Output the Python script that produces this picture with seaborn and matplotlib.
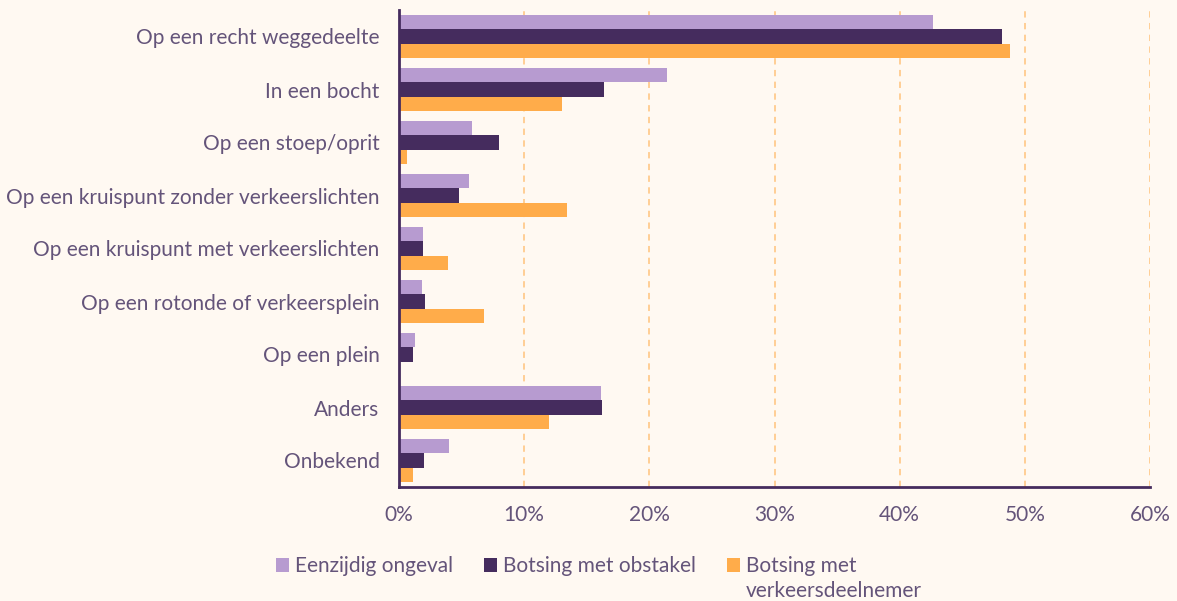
#------------------------------------------------------------------------------
# Libraries
#------------------------------------------------------------------------------

import pandas as pd
import seaborn as sns
import matplotlib.pyplot as plt
from matplotlib.ticker import PercentFormatter

#------------------------------------------------------------------------------
# Data (percentages)
#------------------------------------------------------------------------------

categories = ['Op een recht weggedeelte', 'In een bocht', 'Op een stoep/oprit',
              'Op een kruispunt zonder verkeerslichten',
              'Op een kruispunt met verkeerslichten',
              'Op een rotonde of verkeersplein', 'Op een plein', 'Anders', 'Onbekend']
series = ['Eenzijdig ongeval', 'Botsing met obstakel', 'Botsing met']

eenzijdig = [42.7, 21.4, 5.8, 5.6, 1.9, 1.8, 1.3, 16.1, 4.0]
obstakel = [48.2, 16.4, 8.0, 4.8, 1.9, 2.1, 1.1, 16.2, 2.0]
verkeersdeelnemer = [48.8, 13.0, 0.6, 13.4, 3.9, 6.8, 0.0, 12.0, 1.1]

colors = ['#B79BD0', '#452C5E', '#FFAC4A']
bg = '#FFF9F2'
text_color = '#64547A'
fs = 15

df = pd.DataFrame({
    'categorie': categories * 3,
    'type': [series[0]] * 9 + [series[1]] * 9 + [series[2]] * 9,
    'pct': eenzijdig + obstakel + verkeersdeelnemer,
})

#------------------------------------------------------------------------------
# Plot
#------------------------------------------------------------------------------

sns.set_style('white')
plt.rcParams['font.family'] = ['Lato', 'DejaVu Sans']

fig = plt.figure(figsize=(11.77, 6.01), dpi=100, facecolor=bg)
ax = fig.add_axes([399 / 1177, 1 - 487 / 601, (1150 - 399) / 1177, (487 - 10) / 601])
ax.set_facecolor(bg)

sns.barplot(data=df, y='categorie', x='pct', hue='type', order=categories,
            hue_order=series, palette=colors, saturation=1, orient='h', width=0.82,
            edgecolor='none', ax=ax)

ax.set_xlim(0, 60)
ax.set_xticks(range(0, 61, 10))
ax.xaxis.set_major_formatter(PercentFormatter(decimals=0))
ax.set_xlabel('')
ax.set_ylabel('')
ax.grid(axis='x', color='#FFCB8E', linestyle=(0, (3.5, 3)), linewidth=1.3)
ax.set_axisbelow(True)

for s in ['top', 'right']:
    ax.spines[s].set_visible(False)
for s in ['left', 'bottom']:
    ax.spines[s].set_color('#452C5E')
    ax.spines[s].set_linewidth(2)

ax.tick_params(axis='both', length=0, labelsize=fs, labelcolor=text_color)
ax.tick_params(axis='x', pad=13)
ax.tick_params(axis='y', pad=14)

handles, labels = ax.get_legend_handles_labels()
leg = ax.legend(handles, labels, loc='upper left', bbox_to_anchor=(268 / 1177, 53 / 601),
                bbox_transform=fig.transFigure, ncol=3, frameon=False, fontsize=fs,
                labelcolor=text_color, handlelength=0.6, handleheight=0.6,
                handletextpad=0.3, columnspacing=1.5, borderaxespad=0)

# second line of the third legend label, placed under its first line
fig.canvas.draw()
renderer = fig.canvas.get_renderer()
bb = leg.get_texts()[2].get_window_extent(renderer)
fig.text(bb.x0 / fig.bbox.width, (bb.y0 - 25) / fig.bbox.height, 'verkeersdeelnemer',
         fontsize=fs, color=text_color, ha='left', va='bottom')

fig.savefig('out.png', dpi=100, facecolor=bg)

#------------------------------------------------------------------------------
# END
